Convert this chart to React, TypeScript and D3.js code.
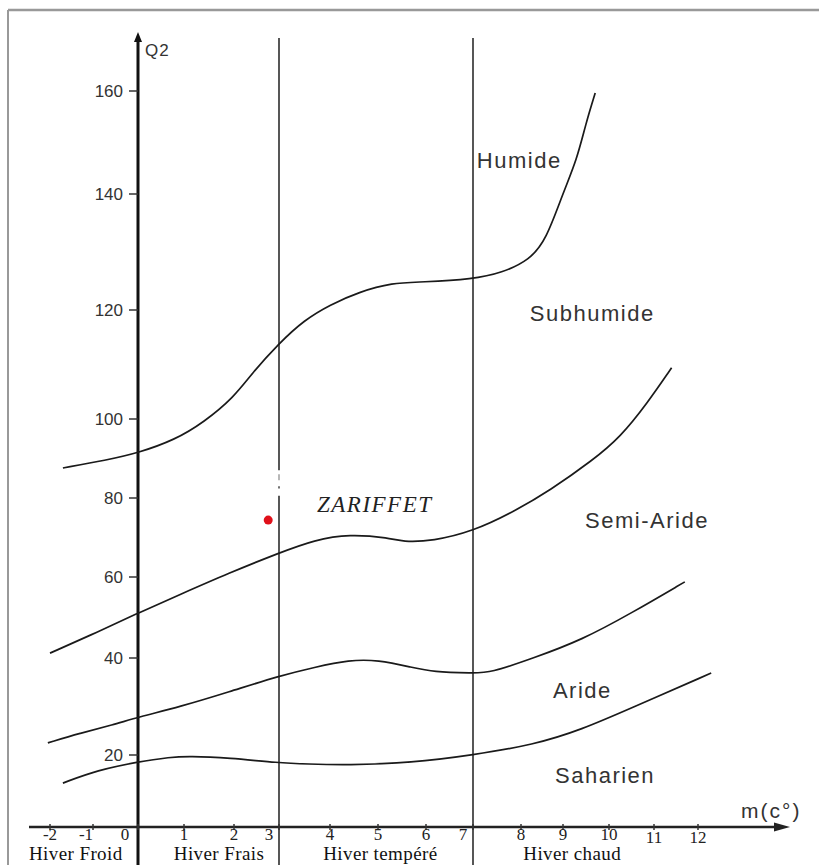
import * as d3 from "d3";

const WIDTH = 819;
const HEIGHT = 865;

// axis stops (the scanned axes are not evenly spaced, so the scales are piecewise)
const X_TICKS = [-2, -1, 0, 1, 2, 3, 4, 5, 6, 7, 8, 9, 10, 11, 12];
const X_PX = [50, 93, 138, 184, 234, 279, 330, 378, 426, 473, 521, 563, 609, 654, 698];
const Y_TICKS = [20, 40, 60, 80, 100, 120, 140, 160];
const Y_STOPS = [0, 20, 40, 60, 80, 100, 120, 140, 160];
const Y_PX = [827, 755, 658, 577, 498, 419, 310, 194, 91];

// boundaries between bioclimatic stages (m in °C, Q2)
const humideM = [-1.7, -0.7, 0, 0.8, 1.4, 2, 2.4, 3, 3.5, 4, 4.6, 5.3, 5.9, 7, 7.6, 8.2, 8.6, 9, 9.3, 9.5, 9.7];
const humideQ = [87.6, 89.6, 91.4, 94.7, 99.2, 104, 108.4, 113.9, 118.2, 120.9, 123.1, 124.7, 124.8, 125.3, 126.4, 128.6, 132.1, 140.2, 146.6, 153.8, 159.6];

const subhumideM = [-2, -0.9, 0, 0.9, 1.9, 3, 3.7, 4.4, 5.25, 5.5, 6.15, 7, 7.8, 8.7, 9.65, 10.25, 10.85, 11.4];
const subhumideQ = [41.2, 46.4, 51.1, 55.6, 61, 66.1, 69.4, 70.9, 69.9, 68.9, 69.1, 71.6, 76.2, 82, 89.6, 95.4, 102.9, 109.4];

const semiArideM = [-2.05, -1.3, -0.56, 0, 0.9, 1.9, 3, 3.7, 4.4, 5, 5.7, 6.15, 7, 7.35, 8.3, 9.4, 10.5, 11.7];
const semiArideQ = [22.5, 24.5, 26.2, 27.8, 29.9, 33, 36.3, 38.1, 39.6, 39.6, 38.1, 37.1, 36.9, 36.9, 40, 44.4, 51.1, 58.8];

const arideM = [-1.7, -0.9, 0, 0.7, 1.1, 1.9, 3, 3.55, 4.35, 5.7, 7, 8.3, 9.4, 10.5, 12.3];
const arideQ = [12.2, 15.8, 18.1, 19.4, 19.7, 19.2, 17.8, 17.5, 17.2, 17.8, 20, 22.1, 25.2, 29.7, 36.9];

const curves = [
  { m: humideM, q: humideQ },
  { m: subhumideM, q: subhumideQ },
  { m: semiArideM, q: semiArideQ },
  { m: arideM, q: arideQ },
];

// stage names and where they sit
const stageNames = ["Humide", "Subhumide", "Semi-Aride", "Aride", "Saharien"];
const stageM = [7.08, 8.21, 9.48, 8.76, 8.81];
const stageQ = [146.6, 119.4, 74.4, 33.4, 14.4];

// winter variants
const winterNames = ["Hiver Froid", "Hiver Frais", "Hiver tempéré", "Hiver chaud"];
const winterM = [-1.4, 1.7, 5.05, 9.2];
const winterLimits = [3, 7];

// station
const station = { name: "ZARIFFET", m: 2.76, q: 74.4 };

const LABEL_SHIFT: Record<number, number> = { [-1]: -7, 0: -13, 3: -10, 7: -10 };

export default function App() {
  const x = d3.scaleLinear().domain(X_TICKS).range(X_PX);
  const y = d3.scaleLinear().domain(Y_STOPS).range(Y_PX);

  const axisY = y(0);
  const axisX = x(0);

  const line = d3
    .line<[number, number]>()
    .x((d) => x(d[0]))
    .y((d) => y(d[1]))
    .curve(d3.curveBasis);

  const sans = "'Liberation Sans', Arial, sans-serif";
  const serif = "'Liberation Serif', 'Times New Roman', serif";

  return (
    <svg
      width={WIDTH}
      height={HEIGHT}
      style={{ position: "absolute", left: 0, top: 0, background: "#fff" }}
    >
      {/* frame */}
      <line x1={8} x2={WIDTH} y1={10} y2={10} stroke="#999" strokeWidth={2.5} />
      <line x1={8} x2={8} y1={10} y2={HEIGHT} stroke="#999" strokeWidth={2} />

      {/* winter limits */}
      {winterLimits.map((m) => (
        <g key={m}>
          <line x1={x(m)} x2={x(m)} y1={38} y2={m === 3 ? y(87) : HEIGHT} stroke="#444" strokeWidth={1.8} />
          {m === 3 && (
            <>
              <line x1={x(m)} x2={x(m)} y1={y(86)} y2={y(84.5)} stroke="#888" strokeWidth={1.2} />
              <line x1={x(m)} x2={x(m)} y1={y(83)} y2={y(82.4)} stroke="#444" strokeWidth={1.5} />
              <line x1={x(m)} x2={x(m)} y1={y(80.6)} y2={HEIGHT} stroke="#444" strokeWidth={1.8} />
            </>
          )}
        </g>
      ))}

      {/* y axis */}
      <line x1={axisX} x2={axisX} y1={40} y2={HEIGHT} stroke="#111" strokeWidth={3} />
      <path d={`M${axisX - 4},${42} L${axisX},${32} L${axisX + 4},${42} Z`} fill="#111" />
      <text x={145} y={50} fontFamily={sans} fontSize={17} fill="#333" dominantBaseline="central" letterSpacing={1}>
        Q2
      </text>
      {Y_TICKS.map((v) => (
        <g key={v}>
          <line x1={axisX - 9} x2={axisX} y1={y(v)} y2={y(v)} stroke="#333" strokeWidth={1.5} />
          <text
            x={axisX - 15}
            y={y(v)}
            textAnchor="end"
            dominantBaseline="central"
            fontFamily={sans}
            fontSize={17}
            fill="#333"
          >
            {v}
          </text>
        </g>
      ))}

      {/* x axis */}
      <line x1={29} x2={778} y1={axisY} y2={axisY} stroke="#222" strokeWidth={2.5} />
      <path d={`M${774},${axisY - 4.5} L${790},${axisY} L${774},${axisY + 4.5} Z`} fill="#222" />
      {X_TICKS.map((m) => (
        <g key={m}>
          <line x1={x(m)} x2={x(m)} y1={axisY - 3} y2={axisY + 3} stroke="#333" strokeWidth={1.5} />
          <text
            x={x(m) + (LABEL_SHIFT[m] ?? 0)}
            y={m >= 11 ? 843 : 840}
            textAnchor="middle"
            fontFamily={serif}
            fontSize={17}
            fill="#222"
          >
            {m}
          </text>
        </g>
      ))}
      <text x={741} y={810} fontFamily={sans} fontSize={21} fill="#333" letterSpacing={2} dominantBaseline="central">
        m(c°)
      </text>
      {winterNames.map((name, i) => (
        <text
          key={name}
          x={x(winterM[i])}
          y={860}
          textAnchor="middle"
          fontFamily={serif}
          fontSize={19}
          letterSpacing={0.4}
          fill="#111"
        >
          {name}
        </text>
      ))}

      {/* stage boundaries */}
      {curves.map((c, i) => (
        <path
          key={i}
          d={line(c.m.map((m, j) => [m, c.q[j]] as [number, number])) || ""}
          fill="none"
          stroke="#1a1a1a"
          strokeWidth={1.7}
        />
      ))}

      {/* stage names */}
      {stageNames.map((name, i) => (
        <text
          key={name}
          x={x(stageM[i])}
          y={y(stageQ[i])}
          dominantBaseline="central"
          fontFamily={sans}
          fontSize={22}
          letterSpacing={1.5}
          fill="#333"
        >
          {name}
        </text>
      ))}

      {/* station */}
      <circle cx={x(station.m)} cy={y(station.q)} r={4.5} fill="#e0101a" />
      <text
        x={317}
        y={512}
        fontFamily={serif}
        fontStyle="italic"
        fontSize={23}
        letterSpacing={1.5}
        fill="#222"
      >
        {station.name}
      </text>
    </svg>
  );
}
